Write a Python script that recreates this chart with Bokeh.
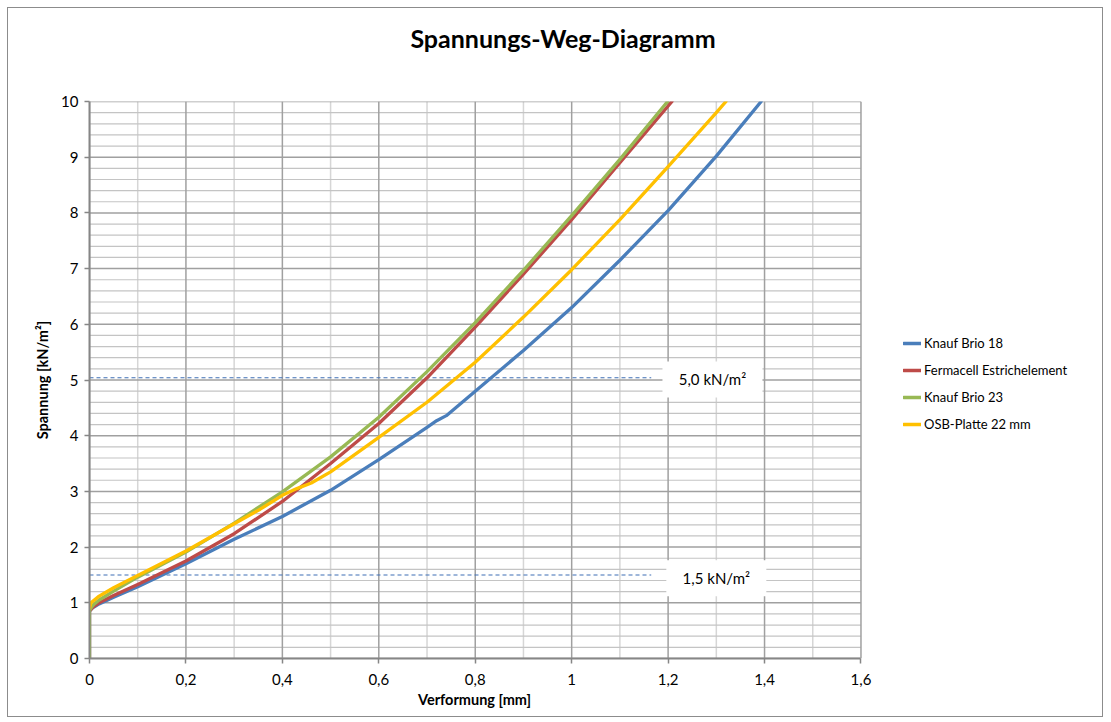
from bokeh.plotting import figure
from bokeh.models import (FixedTicker, CustomJSTickFormatter, Legend, LegendItem,
                          ColumnDataSource, Div, Title)
from bokeh.layouts import column
from bokeh.core.properties import value
from bokeh.embed import file_html
from bokeh.resources import INLINE

# ---------------- data ----------------
title_text = "Spannungs-Weg-Diagramm"
x_label = "Verformung [mm]"
y_label = "Spannung [kN/m²]"

series_names = ["Knauf Brio 18", "Fermacell Estrichelement", "Knauf Brio 23", "OSB-Platte 22 mm"]
series_colors = ["#4A7EBB", "#BE4B48", "#98B954", "#FFC000"]

brio18_x = [0, 0, 0.005, 0.01, 0.02, 0.05, 0.1, 0.2, 0.3, 0.4, 0.5, 0.6, 0.7, 0.72, 0.74, 0.8, 0.9, 1.0, 1.1, 1.2, 1.3, 1.393]
brio18_y = [0, 0.85, 0.9, 0.93, 0.98, 1.1, 1.29, 1.70, 2.14, 2.55, 3.02, 3.57, 4.15, 4.27, 4.36, 4.8, 5.53, 6.3, 7.15, 8.04, 9.02, 10.0]

ferma_x = [0, 0, 0.005, 0.01, 0.02, 0.05, 0.1, 0.2, 0.3, 0.4, 0.5, 0.6, 0.7, 0.8, 0.9, 1.0, 1.1, 1.208]
ferma_y = [0, 0.85, 0.9, 0.94, 1.0, 1.13, 1.33, 1.75, 2.24, 2.82, 3.5, 4.22, 5.04, 5.95, 6.9, 7.88, 8.9, 10.0]

brio23_x = [0, 0, 0.005, 0.01, 0.02, 0.05, 0.1, 0.2, 0.3, 0.4, 0.5, 0.6, 0.7, 0.8, 0.9, 1.0, 1.1, 1.199]
brio23_y = [0, 0.86, 0.93, 0.98, 1.05, 1.21, 1.46, 1.91, 2.43, 2.99, 3.62, 4.33, 5.15, 6.03, 6.97, 7.95, 8.96, 10.0]

osb_x = [0, 0.003, 0.01, 0.02, 0.05, 0.1, 0.2, 0.3, 0.354, 0.4, 0.43, 0.46, 0.5, 0.6, 0.7, 0.8, 0.9, 1.0, 1.1, 1.2, 1.3, 1.32]
osb_y = [0.9, 1.0, 1.05, 1.12, 1.27, 1.49, 1.93, 2.42, 2.68, 2.93, 3.05, 3.15, 3.35, 3.97, 4.6, 5.32, 6.13, 6.98, 7.88, 8.83, 9.8, 10.0]

ref_levels = [5.04, 1.5]
ref_line_end = 1.165
ref_labels = ["5,0 kN/m²", "1,5 kN/m²"]
ref_label_x = [1.292, 1.300]
ref_label_y = [5.01, 1.44]

x_min, x_max = 0, 1.6
y_min, y_max = 0, 10
x_ticks = [0, 0.2, 0.4, 0.6, 0.8, 1.0, 1.2, 1.4, 1.6]
x_minor = [0.1, 0.3, 0.5, 0.7, 0.9, 1.1, 1.3, 1.5]
y_ticks = list(range(0, 11))
y_minor = [i / 5 for i in range(0, 51) if i % 5 != 0]

FONT = "Lato"

# ---------------- layout constants ----------------
FIG_W, FIG_H = 1096, 650
BORDER_L, BORDER_T, BORDER_B = 81, 33, 60
PLOT_W = 773                      # pixel width of the 0..1.6 plot area
FRAME_W = FIG_W - BORDER_L        # frame extends under the legend area
x_view_end = x_max * FRAME_W / PLOT_W

p = figure(width=FIG_W, height=FIG_H, x_range=(x_min, x_view_end), y_range=(y_min, y_max),
           output_backend="svg", toolbar_location=None, title=None,
           min_border_left=BORDER_L, min_border_right=0, min_border_top=BORDER_T,
           min_border_bottom=BORDER_B, margin=0)
p.background_fill_color = "white"
p.border_fill_color = "white"
p.outline_line_color = None
p.xgrid.visible = False
p.ygrid.visible = False

p.xaxis.ticker = FixedTicker(ticks=x_ticks, minor_ticks=x_minor)
p.yaxis.ticker = FixedTicker(ticks=y_ticks, minor_ticks=y_minor)
p.xaxis.bounds = (x_min, x_max)
fmt = "return String(Math.round(tick*10)/10).replace('.', ',');"
p.xaxis.formatter = CustomJSTickFormatter(code=fmt)
p.yaxis.formatter = CustomJSTickFormatter(code=fmt)

for ax in (p.xaxis[0], p.yaxis[0]):
    ax.axis_line_color = "#868686"
    ax.axis_line_width = 2
    ax.major_tick_line_color = "#868686"
    ax.major_tick_line_width = 1.5
    ax.major_tick_out = 5
    ax.major_tick_in = 0
    ax.minor_tick_line_color = None
    ax.major_label_text_font = FONT
    ax.major_label_text_font_size = "15px"
    ax.major_label_text_color = "black"
    ax.axis_label_text_font = FONT
    ax.axis_label_text_font_size = "14.5px"
    ax.axis_label_text_font_style = "bold"
    ax.axis_label_text_color = "black"

p.yaxis.axis_label = y_label
p.xaxis.major_label_standoff = 10
p.yaxis.major_label_standoff = 6
p.yaxis.axis_label_standoff = 7

# x-axis title, centred under the 0..1.6 plot area
p.add_layout(Title(text=x_label, align="left", offset=PLOT_W / 2 - 58, standoff=3,
                   text_font=FONT, text_font_size="14.5px", text_font_style="bold",
                   text_color="black"), "below")

# grid (limited to the 0..1.6 plot area)
p.segment(x0=x_minor, x1=x_minor, y0=[y_min] * len(x_minor), y1=[y_max] * len(x_minor),
          line_color="#d6d6d6", line_width=1.5)
p.segment(x0=[x_min] * len(y_minor), x1=[x_max] * len(y_minor), y0=y_minor, y1=y_minor,
          line_color="#c4c4c4", line_width=1.2)
p.segment(x0=x_ticks, x1=x_ticks, y0=[y_min] * len(x_ticks), y1=[y_max] * len(x_ticks),
          line_color="#a0a0a0", line_width=1.5)
p.segment(x0=[x_min] * len(y_ticks), x1=[x_max] * len(y_ticks), y0=y_ticks, y1=y_ticks,
          line_color="#a0a0a0", line_width=1.5)

# reference dashed lines
for lvl in ref_levels:
    p.line([x_min, ref_line_end], [lvl, lvl], line_color="#3F6FB5", line_width=1.1, line_dash="4 3")

# label boxes
box_src = ColumnDataSource(dict(x=ref_label_x, y=ref_label_y, t=ref_labels))
p.rect(x="x", y="y", width=100, height=36, width_units="screen", height_units="screen",
       source=box_src, fill_color="white", line_color=None)
p.text(x="x", y="y", text="t", source=box_src, text_align="center", text_baseline="middle",
       text_font=value(FONT), text_font_size="15px", text_color="black")

# curves
data_x = [brio18_x, ferma_x, brio23_x, osb_x]
data_y = [brio18_y, ferma_y, brio23_y, osb_y]
items = []
for name, col, xs, ys in zip(series_names, series_colors, data_x, data_y):
    r = p.line(xs, ys, line_color=col, line_width=3.3, line_join="round", line_cap="round")
    items.append(LegendItem(label=name, renderers=[r]))

legend = Legend(items=items, location=(PLOT_W + 41, 224), orientation="vertical",
                label_text_font=FONT, label_text_font_size="13px", label_text_color="black",
                glyph_width=18, glyph_height=20, label_height=20, label_standoff=3,
                spacing=7, padding=0, margin=0, border_line_color=None,
                background_fill_alpha=0)
p.add_layout(legend, "center")

title_div = Div(text=title_text, width=FIG_W, height=60, margin=0,
                styles={"font-family": "Lato", "font-size": "25px", "font-weight": "bold",
                        "text-align": "center", "padding-top": "15px", "padding-left": "16px",
                        "box-sizing": "border-box", "color": "black", "line-height": "30px"})

layout = column(title_div, p, width=FIG_W, height=60 + FIG_H, margin=(7, 0, 0, 7), spacing=0,
                styles={"border": "1px solid #8c8c8c", "overflow": "hidden",
                        "background-color": "white"})

open("out.html", "w").write(file_html(layout, INLINE))
